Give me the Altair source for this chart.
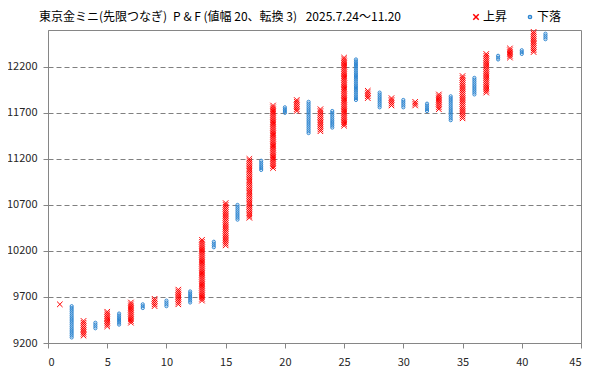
import altair as alt
import pandas as pd

# Point & Figure columns (box = 20, reversal = 3)
col_no = list(range(1, 43))
col_type = ["上昇" if i % 2 == 1 else "下落" for i in col_no]
col_low = [9620, 9260, 9280, 9360, 9380, 9400, 9420, 9580, 9600, 9600,
           9620, 9640, 9660, 10240, 10260, 10540, 10560, 11080, 11100, 11700,
           11720, 11480, 11500, 11540, 11560, 11840, 11860, 11760, 11780, 11760,
           11780, 11720, 11740, 11620, 11640, 11900, 11920, 12280, 12300, 12340,
           12360, 12500]
col_high = [9620, 9600, 9440, 9420, 9540, 9520, 9640, 9620, 9680, 9660,
            9780, 9760, 10320, 10300, 10720, 10700, 11200, 11180, 11780, 11760,
            11840, 11820, 11740, 11720, 12300, 12280, 11940, 11920, 11860, 11840,
            11820, 11800, 11900, 11880, 12100, 12080, 12340, 12320, 12400, 12380,
            12580, 12560]
box_size = 20
y_ticks = [9200, 9700, 10200, 10700, 11200, 11700, 12200]
x_ticks = [0, 5, 10, 15, 20, 25, 30, 35, 40, 45]
title_text = ["東京金ミニ(先限つなぎ)\u2002P & F (値幅 20、転換 3)\u2002 2025.7.24～11.20"]

df = pd.DataFrame({"col": col_no, "type": col_type, "low": col_low, "high": col_high})
xpath = "M-1,-1L1,1M-1,1L1,-1"
dom = ["上昇", "下落"]


def leg():
    return alt.Legend(title=None, orient="none", legendX=422, legendY=-19,
                      direction="horizontal", columnPadding=16, labelOffset=1,
                      padding=0, labelFontSize=12, labelFont="Noto Sans CJK JP",
                      labelColor="#000000")


points = (
    alt.Chart(df)
    .transform_calculate(box=f"sequence(datum.low, datum.high + 1, {box_size})")
    .transform_flatten(["box"])
    .mark_point(filled=False, strokeWidth=1, opacity=1)
    .encode(
        x=alt.X("col:Q", scale=alt.Scale(domain=[0, 45], nice=False, zero=False),
                axis=alt.Axis(values=x_ticks, title=None, grid=False)),
        y=alt.Y("box:Q", scale=alt.Scale(domain=[9200, 12600], nice=False, zero=False),
                axis=alt.Axis(values=y_ticks, title=None, grid=True, format="d")),
        color=alt.Color("type:N", scale=alt.Scale(domain=dom, range=["#FF0000", "#2E86D1"]), legend=leg()),
        shape=alt.Shape("type:N", scale=alt.Scale(domain=dom, range=[xpath, "circle"]), legend=leg()),
        size=alt.Size("type:N", scale=alt.Scale(domain=dom, range=[30, 10]), legend=leg()),
    )
)

title = (
    alt.Chart(pd.DataFrame({"t": title_text}))
    .mark_text(align="left", baseline="middle", fontSize=12, font="Noto Sans CJK JP",
               color="#000000")
    .encode(x=alt.value(-9), y=alt.value(-13), text="t:N")
)

chart = (
    alt.layer(points, title)
    .properties(
        width=533, height=313,
        autosize=alt.AutoSizeParams(type="none"),
        padding={"left": 40, "top": 22, "right": 10, "bottom": 26},
    )
    .configure_view(stroke="#868686", strokeWidth=1)
    .configure_axis(
        domainColor="#868686", tickColor="#868686", tickSize=5,
        labelFont="Noto Sans CJK JP", labelFontSize=11, labelColor="#262626",
        gridColor="#808080", gridDash=[5, 3], gridWidth=1,
    )
    .configure_axisY(labelPadding=6)
    .configure_axisX(labelPadding=8)
)

chart.save("out.html", embed_options={"renderer": "svg", "actions": False})
